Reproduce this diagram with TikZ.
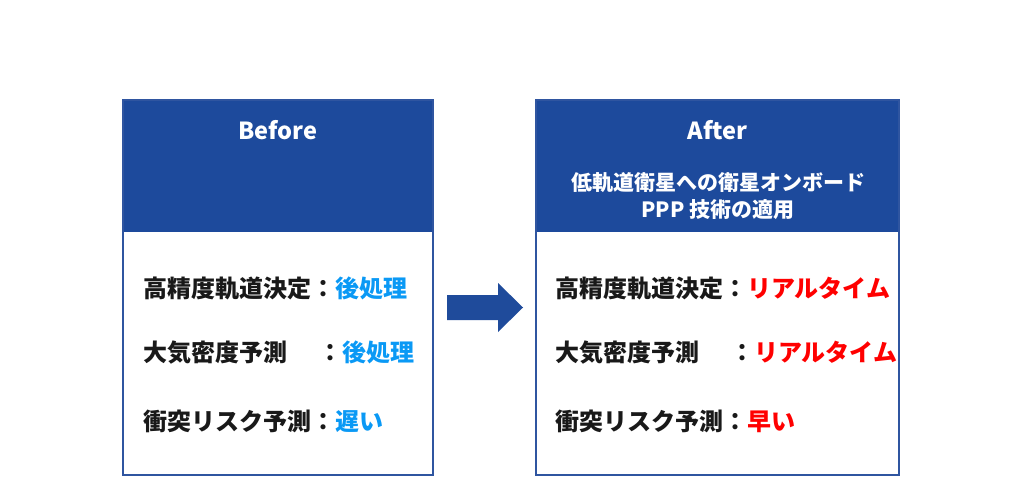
\documentclass[tikz,border=0pt]{standalone}
\usepackage{fontspec}
\setmainfont{Noto Sans CJK JP}
\definecolor{hdrblue}{RGB}{29,74,156}
\definecolor{edgeblue}{RGB}{47,85,160}
\definecolor{lightblue}{RGB}{10,153,245}
\definecolor{redtxt}{RGB}{255,0,0}
\definecolor{arrowblue}{RGB}{31,75,155}
\tikzset{
  hdrtitle/.style={text=white, font=\bfseries\fontsize{23.5}{28}\selectfont, inner sep=0pt},
  hdrsub/.style={text=white, font=\bfseries\fontsize{21}{27}\selectfont, inner sep=0pt, align=center},
  rowtxt/.style={text=black!90, font=\bfseries\fontsize{24}{28}\selectfont, inner sep=0pt, anchor=west},
  boxframe/.style={draw=edgeblue, line width=2pt},
}
\begin{document}
\begin{tikzpicture}[x=1pt,y=-1pt]
\useasboundingbox (0,0) rectangle (1024,481);
% Before box
\fill[hdrblue] (123,100) rectangle (433,232);
\draw[boxframe] (123,100) rectangle (433,475);
\node[hdrtitle] (beforet) at (278,130) {Before};
% After box
\fill[hdrblue] (536,100) rectangle (899,232);
\draw[boxframe] (536,100) rectangle (899,475);
\node[hdrtitle] (aftert) at (717.5,130) {After};
\node[hdrsub] (afters) at (718,196) {低軌道衛星への衛星オンボード\\PPP 技術の適用};
% rows left
\node[rowtxt] (l1) at (143,288) {高精度軌道決定：\textcolor{lightblue}{後処理}};
\node[rowtxt] (l2) at (143,353) {大気密度予測\hspace{31pt}：\textcolor{lightblue}{後処理}};
\node[rowtxt] (l3) at (143,421) {衝突リスク予測：\textcolor{lightblue}{遅い}};
% rows right
\node[rowtxt] (r1) at (555,288) {高精度軌道決定：\textcolor{redtxt}{リアルタイム}};
\node[rowtxt] (r2) at (555,353) {大気密度予測\hspace{31pt}：\textcolor{redtxt}{リアルタイム}};
\node[rowtxt] (r3) at (555,421) {衝突リスク予測：\textcolor{redtxt}{早い}};
% arrow
\fill[arrowblue] (447,295) -- (498,295) -- (498,283) -- (523,307.5) -- (498,332) -- (498,320) -- (447,320) -- cycle;
\end{tikzpicture}
\end{document}
